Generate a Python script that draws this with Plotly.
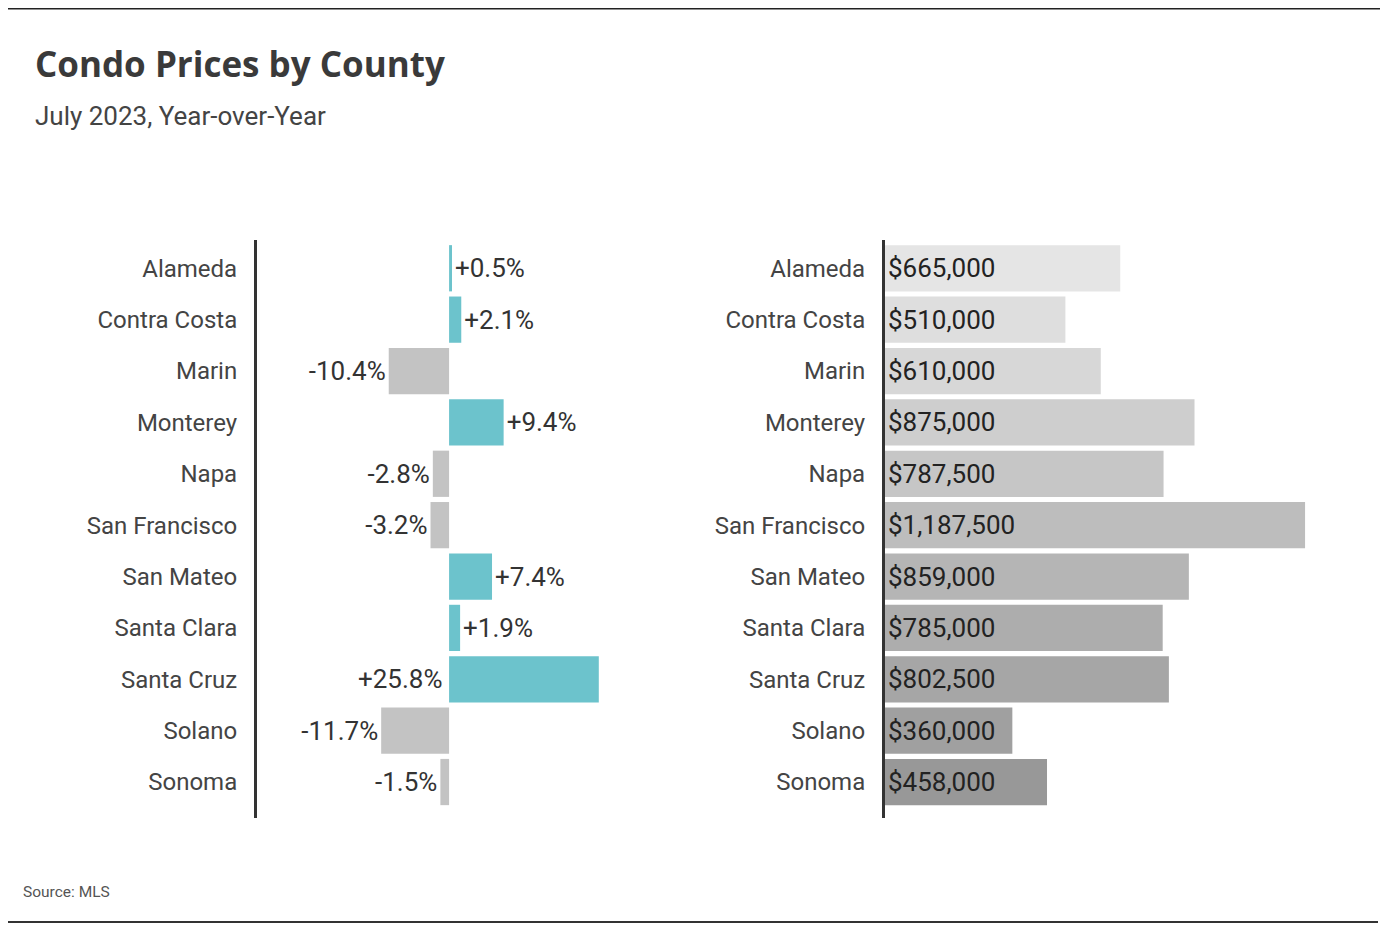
import plotly.graph_objects as go

counties = ["Alameda", "Contra Costa", "Marin", "Monterey", "Napa", "San Francisco",
            "San Mateo", "Santa Clara", "Santa Cruz", "Solano", "Sonoma"]
yoy_change = [0.5, 2.1, -10.4, 9.4, -2.8, -3.2, 7.4, 1.9, 25.8, -11.7, -1.5]
median_price = [665000, 510000, 610000, 875000, 787500, 1187500, 859000, 785000, 802500, 360000, 458000]

yoy_labels = [("+" if v > 0 else "") + f"{v:.1f}%" for v in yoy_change]
price_labels = [f"${v:,.0f}" for v in median_price]

POS = "#6cc3cc"
NEG = "#c3c3c3"
price_colors = ["#e5e5e5", "#dedede", "#d7d7d7", "#cecece", "#c6c6c6", "#bdbdbd",
                "#b5b5b5", "#adadad", "#a6a6a6", "#a0a0a0", "#989898"]

# page body has an 8px margin; figure placed so paper coords map to window pixels
OFF = 8
W, H = 1374, 922
def px(x): return (x - OFF) / W
def py(y): return 1 - (y - OFF) / H

FONT = "Roboto, sans-serif"
TICK = 24
VAL = 26
LONG = 20  # labels of bars longer than this sit on the other side of zero

outside_text = [t if abs(v) < LONG else "" for v, t in zip(yoy_change, yoy_labels)]
long_idx = [i for i, v in enumerate(yoy_change) if abs(v) >= LONG]

fig = go.Figure()
fig.add_trace(go.Bar(
    x=yoy_change, y=counties, orientation="h",
    marker=dict(color=[POS if v > 0 else NEG for v in yoy_change], line=dict(width=0)),
    text=outside_text, textposition="outside", cliponaxis=False,
    textfont=dict(family=FONT, size=VAL, color="#333333"),
    xaxis="x", yaxis="y", hoverinfo="skip", showlegend=False,
))
fig.add_trace(go.Bar(
    x=median_price, y=counties, orientation="h",
    marker=dict(color=price_colors, line=dict(width=0)),
    text=price_labels, textposition="inside", insidetextanchor="start",
    textfont=dict(family=FONT, size=VAL, color="#222222"),
    xaxis="x2", yaxis="y2", hoverinfo="skip", showlegend=False,
))

yax = dict(type="category", range=[10.7, -0.55], showline=True, linecolor="#333333",
           linewidth=3, showgrid=False, zeroline=False, ticks="",
           ticklabelstandoff=12,
           tickfont=dict(family=FONT, size=TICK, color="#444444"),
           domain=[py(818), py(240)])

long_annotations = [
    dict(text=yoy_labels[i], x=0, y=counties[i], xref="x", yref="y",
         xanchor="right" if yoy_change[i] > 0 else "left", yanchor="middle",
         xshift=-4 if yoy_change[i] > 0 else 4, showarrow=False,
         font=dict(family=FONT, size=VAL, color="#333333"))
    for i in long_idx
]

fig.update_layout(
    width=W, height=H, margin=dict(l=0, r=0, t=0, b=0),
    paper_bgcolor="white", plot_bgcolor="white", bargap=0.1,
    xaxis=dict(domain=[px(257), px(640)], range=[-33.1, 32.9], visible=False),
    yaxis=dict(anchor="x", **yax),
    xaxis2=dict(domain=[px(885), px(1342)], range=[0, 1291900], visible=False),
    yaxis2=dict(anchor="x2", **yax),
    shapes=[
        dict(type="line", xref="paper", yref="paper", x0=px(8), x1=px(1380), y0=py(8.5), y1=py(8.5),
             line=dict(color="#222222", width=2)),
        dict(type="line", xref="paper", yref="paper", x0=px(8), x1=px(1378), y0=py(922), y1=py(922),
             line=dict(color="#333333", width=2)),
    ],
    annotations=[
        dict(text="<b>Condo Prices by County</b>", x=px(33), y=py(63), xref="paper", yref="paper",
             xanchor="left", yanchor="middle", showarrow=False,
             font=dict(family="Open Sans, Noto Sans, sans-serif", size=35, color="#3a3a3a")),
        dict(text="July 2023, Year-over-Year", x=px(33), y=py(116), xref="paper", yref="paper",
             xanchor="left", yanchor="middle", showarrow=False,
             font=dict(family=FONT, size=26, color="#444444")),
        dict(text="Source: MLS", x=px(21), y=py(892), xref="paper", yref="paper",
             xanchor="left", yanchor="middle", showarrow=False,
             font=dict(family=FONT, size=15.5, color="#555555")),
    ] + long_annotations,
)

fig.write_html("out.html")
